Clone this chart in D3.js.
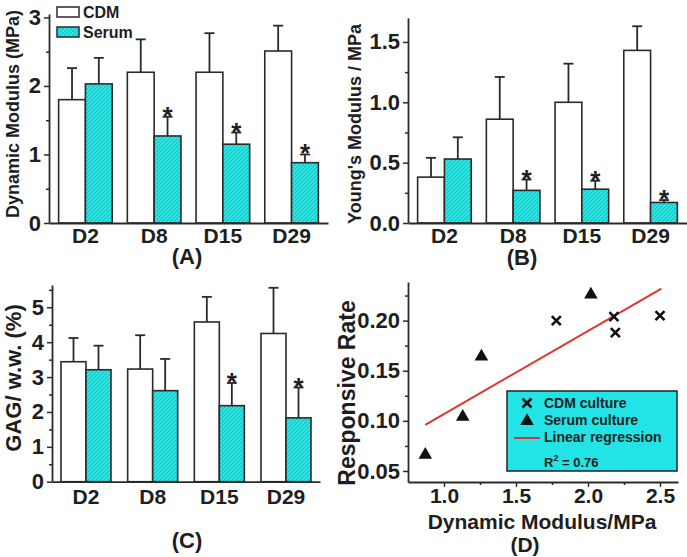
<!DOCTYPE html>
<html><head><meta charset="utf-8">
<script src="https://cdn.jsdelivr.net/npm/d3@7"></script>
<style>
body{margin:0;background:#fff}
text{font-family:"Liberation Sans",Arial,sans-serif;font-weight:bold;fill:#1e1e1e}
</style>
</head><body>
<svg id="chart" width="687" height="557"></svg>
<script>
// ---------- DATA ----------
const categories = ["D2", "D8", "D15", "D29"];
const seriesNames = ["CDM", "Serum"];

// (A) Dynamic modulus (MPa)
const dynCDM = [1.80, 2.20, 2.20, 2.51];
const dynCDMErr = [0.46, 0.48, 0.57, 0.37];
const dynSerum = [2.03, 1.27, 1.15, 0.88];
const dynSerumErr = [0.38, 0.28, 0.17, 0.12];
const dynSig = [false, true, true, true];
const dynTicks = [0, 1, 2, 3];
const dynMinor = [0.5, 1.5, 2.5];

// (B) Young's modulus (MPa)
const youngCDM = [0.38, 0.86, 1.00, 1.43];
const youngCDMErr = [0.16, 0.35, 0.32, 0.20];
const youngSerum = [0.53, 0.27, 0.28, 0.17];
const youngSerumErr = [0.18, 0.09, 0.07, 0.02];
const youngSig = [false, true, true, true];
const youngTicks = [0, 0.5, 1.0, 1.5];
const youngMinor = [0.25, 0.75, 1.25];

// (C) GAG / w.w. (%)
const gagCDM = [3.44, 3.23, 4.58, 4.25];
const gagCDMErr = [0.68, 0.97, 0.72, 1.31];
const gagSerum = [3.21, 2.61, 2.18, 1.83];
const gagSerumErr = [0.69, 0.91, 0.65, 0.87];
const gagSig = [false, false, true, true];
const gagTicks = [0, 1, 2, 3, 4, 5];
const gagMinor = [0.5, 1.5, 2.5, 3.5, 4.5, 5.5];

// (D) Responsive rate vs dynamic modulus
const cdmX = [1.78, 2.18, 2.19, 2.50];
const cdmY = [0.200, 0.204, 0.188, 0.205];
const serumX = [0.87, 1.13, 1.26, 2.02];
const serumY = [0.066, 0.104, 0.164, 0.226];
const regX = [0.87, 2.51];
const regY = [0.096, 0.232];
const rTicksX = [1.0, 1.5, 2.0, 2.5];
const rMinorX = [1.25, 1.75, 2.25];
const rTicksY = [0.05, 0.10, 0.15, 0.20];
const rMinorY = [0.075, 0.125, 0.175, 0.225];
const legendD = ["CDM culture", "Serum culture", "Linear regression"];
const r2Text = "0.76";

// ---------- STYLE ----------
const INK = "#2a2a2a";
const CYAN = "#2fe2e2";
const FONT = '"Liberation Sans",Arial,sans-serif';
const svg = d3.select("#chart");
const defs = svg.append("defs");
const pat = defs.append("pattern").attr("id", "hatch")
  .attr("patternUnits", "userSpaceOnUse").attr("width", 4).attr("height", 4);
pat.append("rect").attr("width", 4).attr("height", 4).attr("fill", CYAN);
pat.append("path").attr("d", "M-1,1 l2,-2 M0,4 l4,-4 M3,5 l2,-2")
  .attr("stroke", "#1fb3bf").attr("stroke-width", 0.9);

function styleAxis(g) {
  g.selectAll("path.domain").attr("stroke", INK).attr("stroke-width", 1.8);
  g.selectAll(".tick line").attr("stroke", INK).attr("stroke-width", 1.5);
}
function styleText(sel, fs) {
  sel.attr("font-size", fs).style("font-family", FONT).style("font-weight", "bold").attr("fill", "#1e1e1e");
}

function yAxis(y, x0, ticks, minor, fmt, fs) {
  const g = svg.append("g").attr("transform", `translate(${x0},0)`);
  g.call(d3.axisLeft(y).tickValues(ticks).tickSize(5).tickSizeOuter(0).tickPadding(3).tickFormat(fmt));
  styleText(g.selectAll(".tick text"), fs);
  const m = svg.append("g").attr("transform", `translate(${x0},0)`);
  m.call(d3.axisLeft(y).tickValues(minor).tickSize(3).tickSizeOuter(0).tickFormat(""));
  m.select("path.domain").remove();
  styleAxis(g); styleAxis(m);
}

function barPanel(o) {
  const x = d3.scaleBand().domain(categories).range(o.xRange).paddingInner(o.pi).paddingOuter(o.po);
  const xs = d3.scaleBand().domain(seriesNames).range([0, x.bandwidth()]);
  const y = d3.scaleLinear().domain(o.yDomain).range(o.yRange);
  const y0 = y(0);

  const rows = categories.map((c, i) => [
    {c, s: "CDM", v: o.cdm[i], e: o.cdmErr[i], sig: false},
    {c, s: "Serum", v: o.serum[i], e: o.serumErr[i], sig: o.sig[i]}
  ]).flat();

  const g = svg.append("g");
  rows.forEach(d => {
    const cx = x(d.c) + xs(d.s) + xs.bandwidth() / 2;
    const yt = y(d.v + d.e);
    g.append("line").attr("x1", cx).attr("x2", cx).attr("y1", y(d.v)).attr("y2", yt)
      .attr("stroke", INK).attr("stroke-width", 1.8);
    g.append("line").attr("x1", cx - 5).attr("x2", cx + 5).attr("y1", yt).attr("y2", yt)
      .attr("stroke", INK).attr("stroke-width", 1.8);
    if (d.sig) {
      g.append("text").attr("x", cx).attr("y", yt + 8).attr("text-anchor", "middle")
        .attr("font-size", 26).text("*");
    }
  });
  g.selectAll("rect.bar").data(rows).join("rect").attr("class", "bar")
    .attr("x", d => x(d.c) + xs(d.s))
    .attr("width", xs.bandwidth())
    .attr("y", d => y(d.v))
    .attr("height", d => y0 - y(d.v))
    .attr("fill", d => d.s === "CDM" ? "#fff" : "url(#hatch)")
    .attr("stroke", INK).attr("stroke-width", 1.6);

  yAxis(y, o.xRange[0], o.ticks, o.minor, o.fmt, 22);
  const xg = svg.append("g").attr("transform", `translate(0,${y0})`);
  xg.call(d3.axisBottom(x).tickSize(0).tickSizeOuter(0).tickPadding(0));
  styleText(xg.selectAll(".tick text").attr("dy", null).attr("y", o.catDy), 21);
  styleAxis(xg);

  svg.append("text").attr("transform", `translate(${o.ylX},${o.ylY}) rotate(-90)`)
    .attr("text-anchor", "middle").attr("font-size", o.ylFs).text(o.ylabel);
  svg.append("text").attr("x", o.lX).attr("y", o.lY).attr("text-anchor", "middle")
    .attr("font-size", 22).text(o.letter);
}

barPanel({cdm: dynCDM, cdmErr: dynCDMErr, serum: dynSerum, serumErr: dynSerumErr, sig: dynSig,
  xRange: [49, 328], pi: 0.22, po: 0.14, yDomain: [0, 3.05], yRange: [223, 14],
  ticks: dynTicks, minor: dynMinor, fmt: d3.format("d"), catDy: 20,
  ylabel: "Dynamic Modulus (MPa)", ylX: 19, ylY: 114, ylFs: 18,
  letter: "(A)", lX: 187, lY: 264});

barPanel({cdm: youngCDM, cdmErr: youngCDMErr, serum: youngSerum, serumErr: youngSerumErr, sig: youngSig,
  xRange: [408, 687], pi: 0.22, po: 0.14, yDomain: [0, 1.7], yRange: [223, 17.8],
  ticks: youngTicks, minor: youngMinor, fmt: d3.format(".1f"), catDy: 20,
  ylabel: "Young's Modulus / MPa", ylX: 361, ylY: 124, ylFs: 18,
  letter: "(B)", lX: 522, lY: 265});

barPanel({cdm: gagCDM, cdmErr: gagCDMErr, serum: gagSerum, serumErr: gagSerumErr, sig: gagSig,
  xRange: [52, 320], pi: 0.25, po: 0.135, yDomain: [0, 5.64], yRange: [481.7, 285],
  ticks: gagTicks, minor: gagMinor, fmt: d3.format("d"), catDy: 22,
  ylabel: "GAG/ w.w. (%)", ylX: 21, ylY: 378, ylFs: 22,
  letter: "(C)", lX: 187, lY: 548});

// ---------- (D) scatter ----------
(function () {
  const x = d3.scaleLinear().domain([0.75, 2.625]).range([408, 678]);
  const y = d3.scaleLinear().domain([0.039, 0.2385]).range([482, 282]);

  yAxis(y, 408, rTicksY, rMinorY, d3.format(".2f"), 22);
  const xg = svg.append("g").attr("transform", "translate(0,482)");
  xg.call(d3.axisBottom(x).tickValues(rTicksX).tickSize(5).tickSizeOuter(0).tickPadding(1).tickFormat(d3.format(".1f")));
  styleText(xg.selectAll(".tick text"), 21);
  const xm = svg.append("g").attr("transform", "translate(0,482)");
  xm.call(d3.axisBottom(x).tickValues(rMinorX).tickSize(3).tickSizeOuter(0).tickFormat(""));
  xm.select("path.domain").remove();
  styleAxis(xg); styleAxis(xm);

  svg.append("path").datum(regX.map((v, i) => [v, regY[i]]))
    .attr("d", d3.line().x(d => x(d[0])).y(d => y(d[1])))
    .attr("stroke", "#e03434").attr("stroke-width", 2).attr("fill", "none");

  const cross = (g, cx, cy) => {
    g.append("path").attr("d", `M${cx - 4.5},${cy - 4.5}L${cx + 4.5},${cy + 4.5}M${cx - 4.5},${cy + 4.5}L${cx + 4.5},${cy - 4.5}`)
      .attr("stroke", "#111").attr("stroke-width", 2.6);
  };
  const tri = d3.symbol().type(d3.symbolTriangle).size(80);
  const pts = svg.append("g");
  cdmX.forEach((v, i) => cross(pts, x(v), y(cdmY[i])));
  pts.selectAll("path.tri").data(serumX.map((v, i) => [v, serumY[i]])).join("path").attr("class", "tri")
    .attr("d", tri).attr("transform", d => `translate(${x(d[0])},${y(d[1])})`).attr("fill", "#111");

  const lg = svg.append("g");
  lg.append("rect").attr("x", 507).attr("y", 391).attr("width", 170).attr("height", 80)
    .attr("fill", "#22e3e6").attr("stroke", "#222").attr("stroke-width", 1.5);
  cross(lg, 527, 403);
  lg.append("path").attr("d", tri).attr("transform", "translate(527,421)").attr("fill", "#111");
  lg.append("line").attr("x1", 514).attr("x2", 540).attr("y1", 438).attr("y2", 438)
    .attr("stroke", "#d03a3a").attr("stroke-width", 2);
  legendD.forEach((t, i) => lg.append("text").attr("x", 544).attr("y", 408 + i * 17).attr("font-size", 14).text(t));
  const r2 = lg.append("text").attr("x", 544).attr("y", 467).attr("font-size", 13);
  r2.append("tspan").text("R");
  r2.append("tspan").attr("font-size", 9).attr("dy", -6).text("2");
  r2.append("tspan").attr("dy", 6).text(" = " + r2Text);

  svg.append("text").attr("transform", "translate(355,393) rotate(-90)").attr("text-anchor", "middle")
    .attr("font-size", 23).text("Responsive Rate");
  svg.append("text").attr("x", 542).attr("y", 529).attr("text-anchor", "middle")
    .attr("font-size", 21).text("Dynamic Modulus/MPa");
  svg.append("text").attr("x", 525).attr("y", 552).attr("text-anchor", "middle")
    .attr("font-size", 21).text("(D)");
})();

// panel A legend
(function () {
  const lg = svg.append("g");
  seriesNames.forEach((s, i) => {
    lg.append("rect").attr("x", 57).attr("y", 7 + i * 20).attr("width", 22).attr("height", 10)
      .attr("fill", i === 0 ? "#fff" : "url(#hatch)").attr("stroke", INK).attr("stroke-width", 1.5);
    lg.append("text").attr("x", 83).attr("y", 18 + i * 20).attr("font-size", 16).text(s);
  });
})();
</script>
</body></html>
